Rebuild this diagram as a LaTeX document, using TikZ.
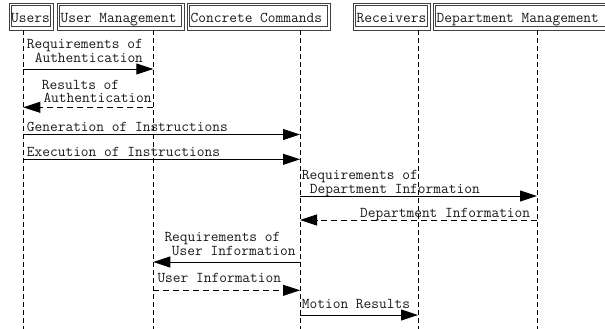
\documentclass[tikz,border=0pt]{standalone}
\usetikzlibrary{arrows.meta}
\begin{document}
\begin{tikzpicture}[x=1pt,y=-1pt,
  every node/.style={inner sep=0pt,anchor=base west,text=black!90,
    font=\ttfamily\fontsize{15}{18}\selectfont},
  hdrline/.style={draw=black!75,line width=0.8pt},
  lifeline/.style={draw=black,line width=0.8pt,dash pattern=on 5pt off 3pt},
  msg/.style={draw=black,line width=0.9pt,-{Triangle[length=17pt,width=11pt]}},
  reply/.style={msg,dash pattern=on 6pt off 4pt},
]
\useasboundingbox (0,0) rectangle (605,329);

% header boxes: outer frame plus inner frame
\newcommand{\hdrbox}[5]{%
  \draw[hdrline] (#1,3.5) rectangle (#2,30);
  \draw[hdrline] (#1+2.3,5.8) rectangle (#2-2.3,26.7);
  \node (#4) at (#3,22.7) {#5};
}
\hdrbox{9}{53}{11}{hU}{Users}
\hdrbox{57}{184}{60.5}{hM}{User Management}
\hdrbox{187}{330}{190.5}{hC}{Concrete Commands}
\hdrbox{353}{430}{356.5}{hR}{Receivers}
\hdrbox{433}{612}{436.5}{hD}{Department Management}

% lifelines
\coordinate (U) at (23.3,30);  \coordinate (Ub) at (23.3,329);
\coordinate (M) at (153.3,30); \coordinate (Mb) at (153.3,329);
\coordinate (C) at (300,30);   \coordinate (Cb) at (300,329);
\coordinate (R) at (418,30);   \coordinate (Rb) at (418,329);
\coordinate (D) at (537,30);   \coordinate (Db) at (537,329);
\foreach \a/\b in {U/Ub,M/Mb,C/Cb,R/Rb,D/Db}
  \draw[lifeline] (\a) -- (\b);

% message rows
\coordinate (r1) at (0,69);
\coordinate (r2) at (0,107.3);
\coordinate (r3) at (0,134.5);
\coordinate (r4) at (0,159.3);
\coordinate (r5) at (0,196);
\coordinate (r6) at (0,220);
\coordinate (r7) at (0,262);
\coordinate (r8) at (0,290.3);
\coordinate (r9) at (0,315);

\draw[msg]   (U |- r1) -- (M |- r1);
\draw[reply] (M |- r2) -- (U |- r2);
\draw[msg]   (U |- r3) -- (C |- r3);
\draw[msg]   (U |- r4) -- (C |- r4);
\draw[msg]   (C |- r5) -- (D |- r5);
\draw[reply] (D |- r6) -- (C |- r6);
\draw[msg]   (C |- r7) -- (M |- r7);
\draw[reply] (M |- r8) -- (C |- r8);
\draw[msg]   (C |- r9) -- (R |- r9);

% message labels
\node (l1a) at (26.7,48.3)  {Requirements of};
\node (l1b) at (34.6,62.7)  {Authentication};
\node (l2a) at (41.7,89.3)  {Results of};
\node (l2b) at (43.3,102.7) {Authentication};
\node (l3)  at (26.7,131.7) {Generation of Instructions};
\node (l4)  at (26.7,156.7) {Execution of Instructions};
\node (l5a) at (301.7,179)  {Requirements of};
\node (l5b) at (309.6,193.3){Department Information};
\node (l6)  at (360,217.3)  {Department Information};
\node (l7a) at (164.3,241.7){Requirements of};
\node (l7b) at (171.7,255.7){User Information};
\node (l8)  at (157.3,282.7){User Information};
\node (l9)  at (301.7,308.3){Motion Results};
\end{tikzpicture}
\end{document}
